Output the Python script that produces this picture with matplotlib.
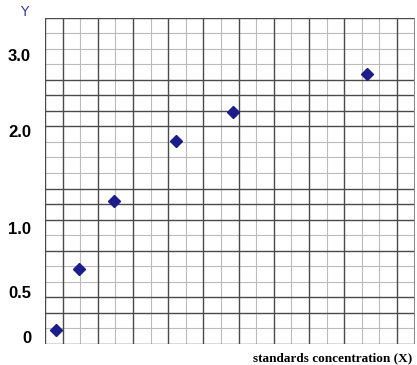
import numpy as np
import matplotlib.pyplot as plt

# data, in grid cells (21 x 21 cell graph paper)
x_cells = [0.63, 1.92, 3.92, 7.45, 10.68, 18.32]
y_cells = [0.92, 4.83, 9.17, 13.08, 14.94, 17.37]

# y labels sit at uneven heights on the scan
ytick_pos = [0.45, 3.33, 7.44, 13.7, 18.6]
ytick_labels = ["0", "0.5", "1.0", "2.0", "3.0"]

n_cols = 21
n_rows = 21
# dark / light pattern of the grid lines (1 = dark)
v_dark = [1, 1, 0, 1, 0, 1, 0, 1, 0, 1, 0, 1, 0, 1, 0, 1, 0, 1, 0, 0, 1, 1]
# counted from the bottom
h_dark = [1, 0, 1, 1, 0, 0, 1, 0, 1, 1, 1, 0, 0, 0, 1, 1, 1, 1, 0, 0, 0, 1]

W, H = 417, 365
fig = plt.figure(figsize=(W / 100, H / 100), dpi=100)
left, right, top, bottom = 45, 414.5, 17.5, 344
ax = fig.add_axes([left / W, (H - bottom) / H, (right - left) / W, (bottom - top) / H])
ax.set_xlim(0, n_cols)
ax.set_ylim(0, n_rows)

for i in range(n_cols + 1):
    if v_dark[i]:
        ax.axvline(i, color="#4a4a4a", lw=1.0, zorder=1)
    else:
        ax.axvline(i, color="#bbbbbb", lw=0.8, zorder=0.5)
for j in range(n_rows + 1):
    if h_dark[j]:
        ax.axhline(j, color="#4a4a4a", lw=1.0, zorder=1)
    else:
        ax.axhline(j, color="#bbbbbb", lw=0.8, zorder=0.5)

for s in ax.spines.values():
    s.set_visible(False)
ax.axvline(n_cols, color="#8a8a8a", lw=2.2, zorder=1.5)

ax.plot(x_cells, y_cells, linestyle="none", marker="D", ms=6.5,
        color="#1c1c8a", zorder=3, clip_on=False)

ax.set_xticks([])
ax.set_yticks(ytick_pos)
ax.set_yticklabels(ytick_labels, fontsize=12, fontweight="bold",
                   family="Liberation Sans")
ax.tick_params(axis="y", length=0, pad=10)

fig.text(24 / W, 1 - 12 / H, "Y", color="#3c3ca0", fontsize=10,
         ha="center", va="center")
fig.text(412 / W, 1 - 358 / H, "standards concentration (X)",
         family="Liberation Serif", fontweight="bold", fontsize=9.5,
         ha="right", va="center")

fig.savefig("out.png", dpi=100)
